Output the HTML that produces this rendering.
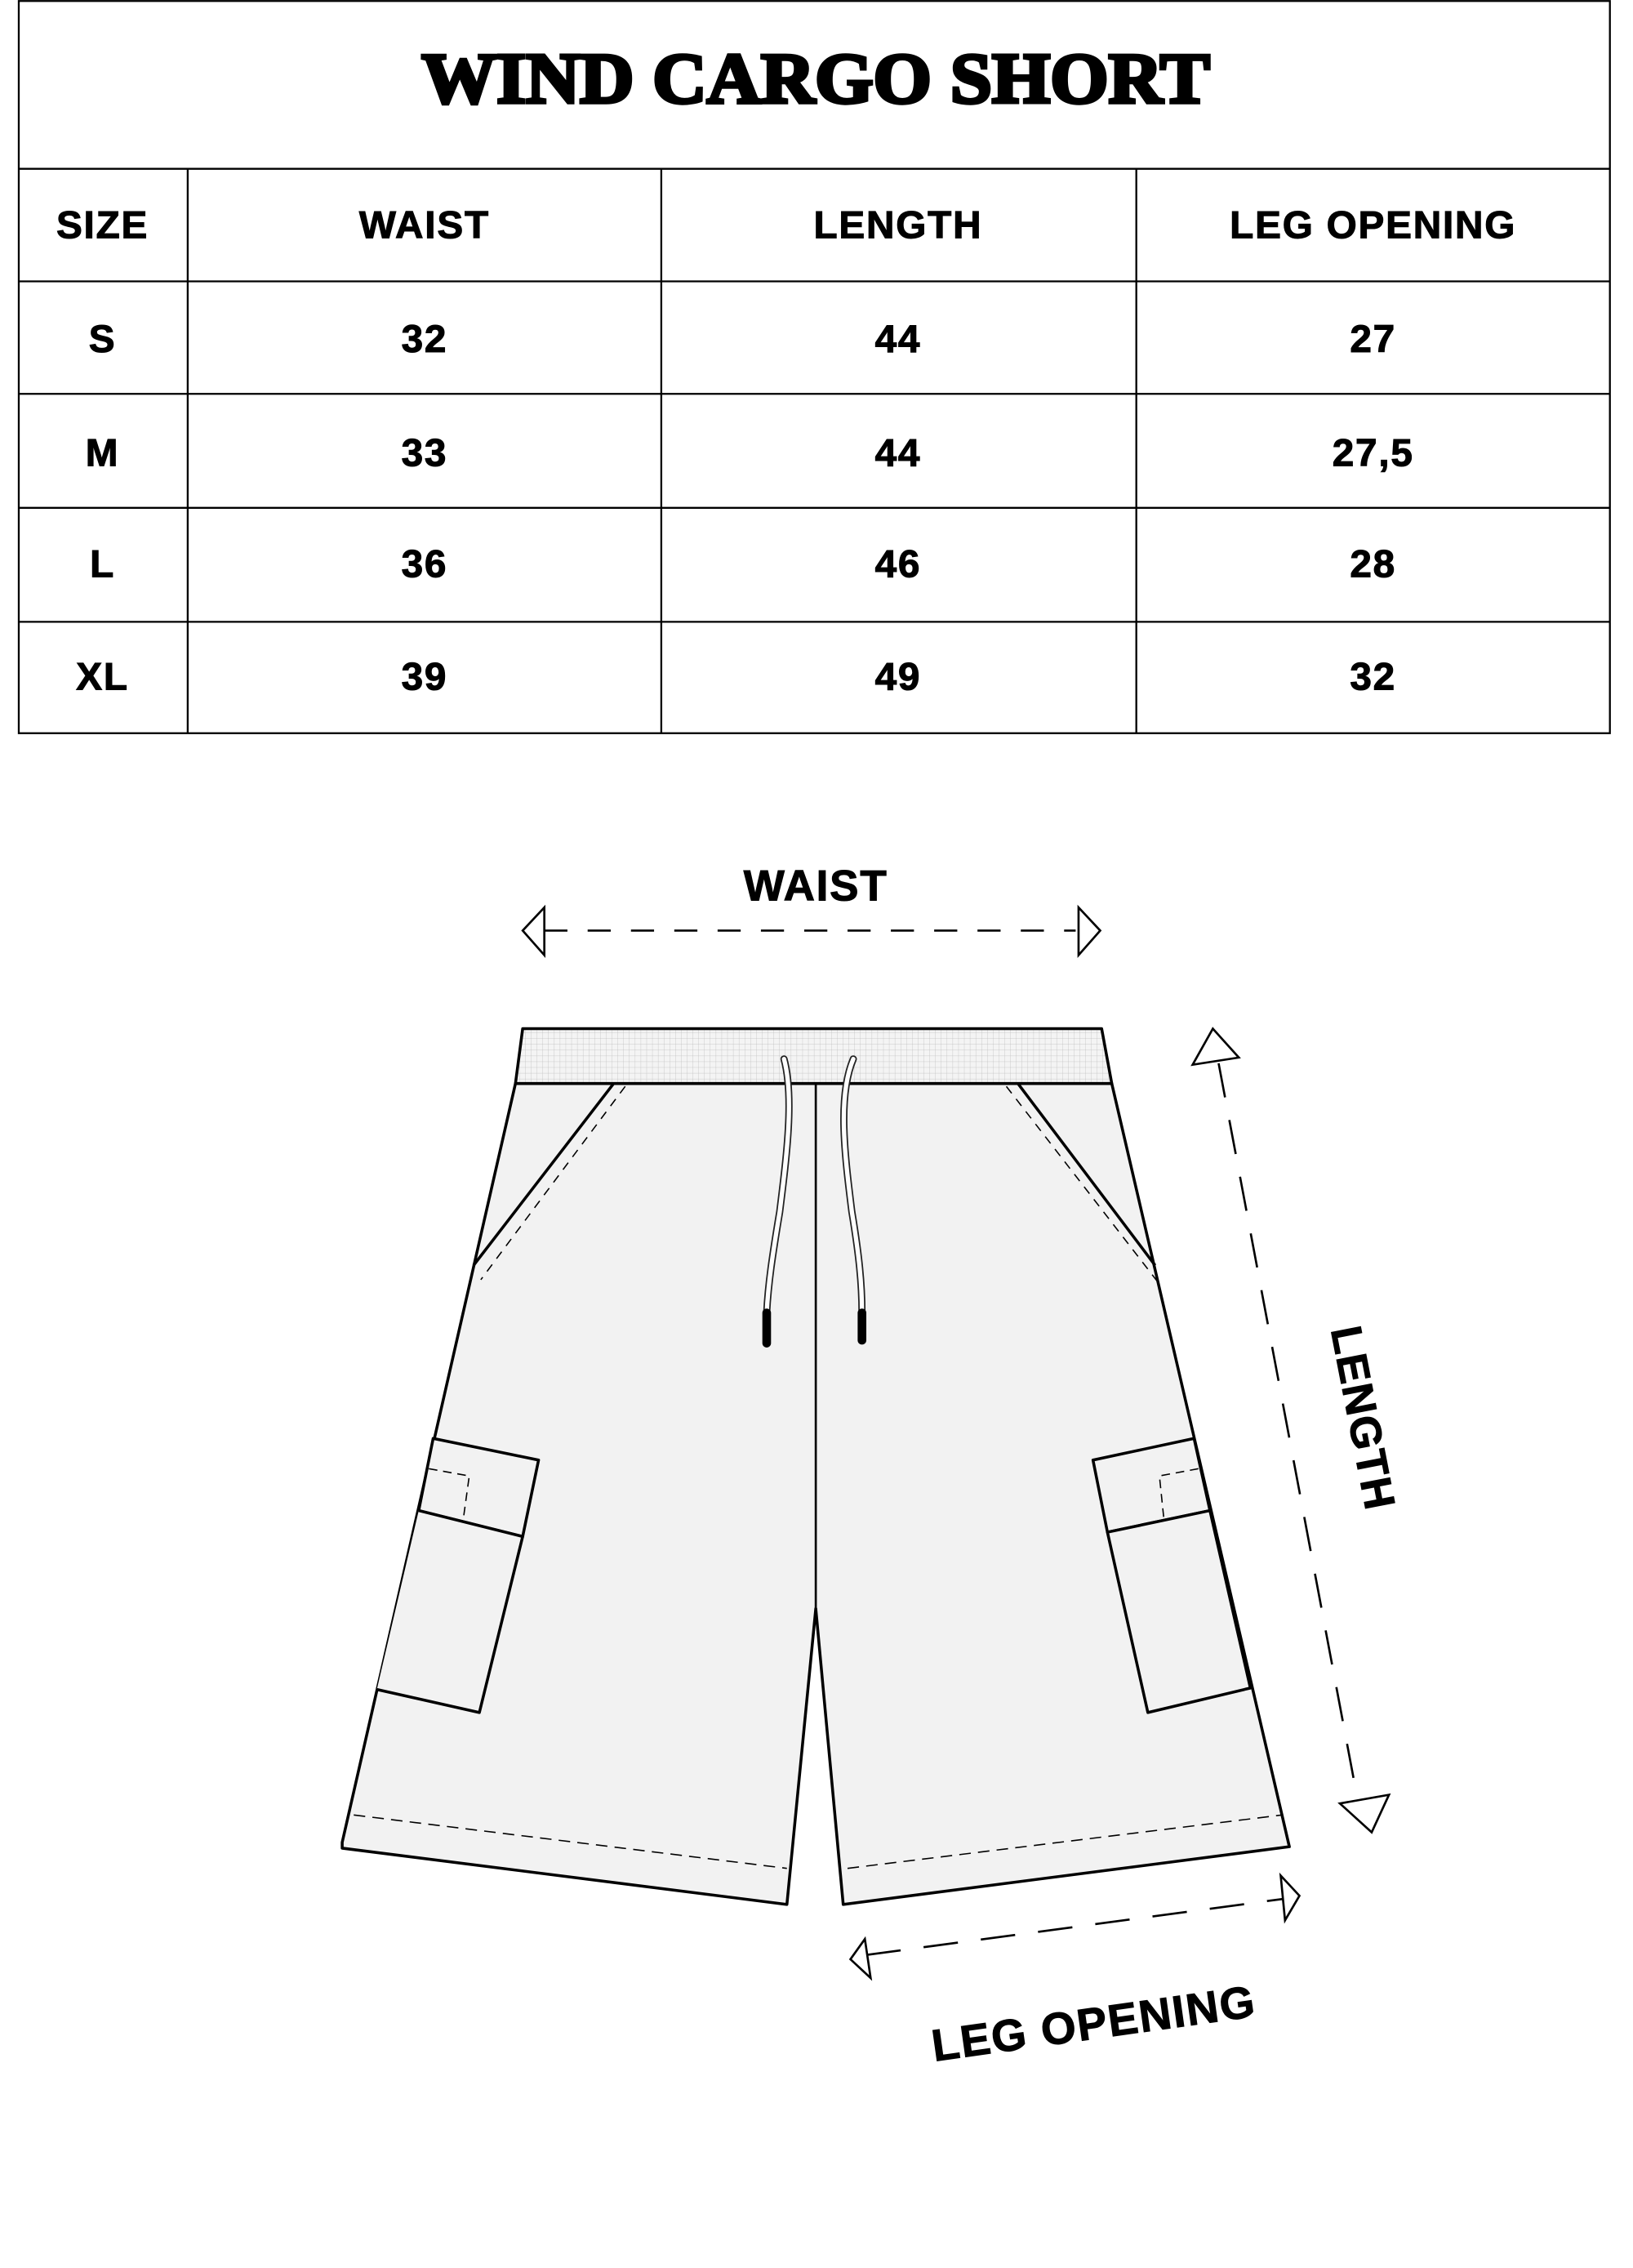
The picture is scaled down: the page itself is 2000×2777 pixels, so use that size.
<!DOCTYPE html>
<html><head><meta charset="utf-8"><style>
html,body{margin:0;padding:0;background:#fff}
svg{display:block}
text{font-family:"Liberation Sans",sans-serif;font-weight:bold;fill:#000}
</style></head><body>
<svg width="2000" height="2777" viewBox="0 0 1131 1572" preserveAspectRatio="none" xmlns="http://www.w3.org/2000/svg">
<defs>
<pattern id="grid" width="4" height="4" patternUnits="userSpaceOnUse">
<rect width="4" height="4" fill="#f4f4f4"/>
<path d="M4 0V4M0 4H4" stroke="#bbb" stroke-width="0.4"/>
</pattern>
</defs>
<!-- table -->
<g stroke="#000" stroke-width="1.3" fill="none">
<rect x="13" y="0.7" width="1102" height="507.5"/>
<path d="M13 117H1115M13 195H1115M13 273H1115M13 352H1115M13 431H1115"/>
<path d="M130 117V508M458 117V508M787 117V508"/>
</g>
<text x="565" y="71" font-size="50" text-anchor="middle" textLength="546" lengthAdjust="spacingAndGlyphs" stroke="#000" stroke-width="2.5" style="font-family:'Liberation Serif',serif;font-weight:900">WIND CARGO SHORT</text>
<g font-size="27" text-anchor="middle" letter-spacing="1" stroke="#000" stroke-width="0.6">
<text x="71" y="165">SIZE</text><text x="294" y="165">WAIST</text><text x="622" y="165">LENGTH</text><text x="951" y="165">LEG OPENING</text>
<text x="71" y="244">S</text><text x="294" y="244">32</text><text x="622" y="244">44</text><text x="951" y="244">27</text>
<text x="71" y="323">M</text><text x="294" y="323">33</text><text x="622" y="323">44</text><text x="951" y="323">27,5</text>
<text x="71" y="400">L</text><text x="294" y="400">36</text><text x="622" y="400">46</text><text x="951" y="400">28</text>
<text x="71" y="478">XL</text><text x="294" y="478">39</text><text x="622" y="478">49</text><text x="951" y="478">32</text>
</g>
<!-- waist -->
<text x="565" y="624" font-size="30" text-anchor="middle" letter-spacing="1" stroke="#000" stroke-width="0.6">WAIST</text>
<g stroke="#000" stroke-width="1.5" fill="#fff">
<path d="M377 645H745" stroke-dasharray="16,14" fill="none"/>
<path d="M362 645L377 629V662Z"/>
<path d="M762 645L747 629V662Z"/>
</g>
<!-- shorts -->
<g stroke="#000" stroke-width="2" stroke-linejoin="round">
<path d="M357 751L237 1277L237 1281L545 1320L565 1115L584 1320L893 1280L770 751Z" fill="#f2f2f2"/>
<path d="M362 713H763L770 751H357Z" fill="url(#grid)"/>
<path d="M565 751V1115" fill="none" stroke-width="1.5"/>
<path d="M425 751L328 877M705 751L800 877" fill="none"/>
<path d="M433 753L333 887M697 753L803 890" fill="none" stroke-width="0.9" stroke-dasharray="6,5"/>
<path d="M245 1258L545 1295M587 1295L888 1258" fill="none" stroke-width="0.9" stroke-dasharray="8,5"/>
<path d="M300 997L373 1012L362 1065L290 1047Z" fill="#f2f2f2"/>
<path d="M290 1047L362 1065L332 1187L261 1171" fill="#f2f2f2"/>
<path d="M827 997L757 1012L767 1062L838 1047Z" fill="#f2f2f2"/>
<path d="M767 1062L838 1047L866 1170L795 1187Z" fill="#f2f2f2"/>
<path d="M297 1018L325 1023L321 1052M830 1018L803 1023L806 1052" fill="none" stroke-width="0.9" stroke-dasharray="6,4"/>
</g>
<!-- drawstrings -->
<g fill="none" stroke-linecap="round">
<path d="M543 734C550 760 545 800 540 840C535 870 532 890 531 910" stroke="#222" stroke-width="5"/>
<path d="M543 734C550 760 545 800 540 840C535 870 532 890 531 910" stroke="#fff" stroke-width="3"/>
<path d="M591 734C580 760 585 800 590 840C595 870 597 890 597 910" stroke="#222" stroke-width="5"/>
<path d="M591 734C580 760 585 800 590 840C595 870 597 890 597 910" stroke="#fff" stroke-width="3"/>
<path d="M531 910V931M597 910V929" stroke="#000" stroke-width="6"/>
</g>
<!-- length -->
<g stroke="#000" stroke-width="1.5" fill="#fff">
<path d="M844 737L940 1246" stroke-dasharray="24,16" fill="none"/>
<path d="M840 713L826 738L858 733Z"/>
<path d="M950 1270L928 1250L962 1244Z"/>
</g>
<text x="0" y="0" font-size="30" text-anchor="middle" letter-spacing="1" stroke="#000" stroke-width="0.6" transform="translate(934,985) rotate(79)">LENGTH</text>
<!-- leg opening -->
<g stroke="#000" stroke-width="1.5" fill="#fff">
<path d="M600 1355L890 1316" stroke-dasharray="24,16" fill="none"/>
<path d="M589 1358L603 1371L599 1344Z"/>
<path d="M900 1314L887 1300L890 1331Z"/>
</g>
<text x="0" y="0" font-size="31" text-anchor="middle" letter-spacing="1" stroke="#000" stroke-width="0.6" transform="translate(759,1413) rotate(-8)">LEG OPENING</text>
</svg>
</body></html>
